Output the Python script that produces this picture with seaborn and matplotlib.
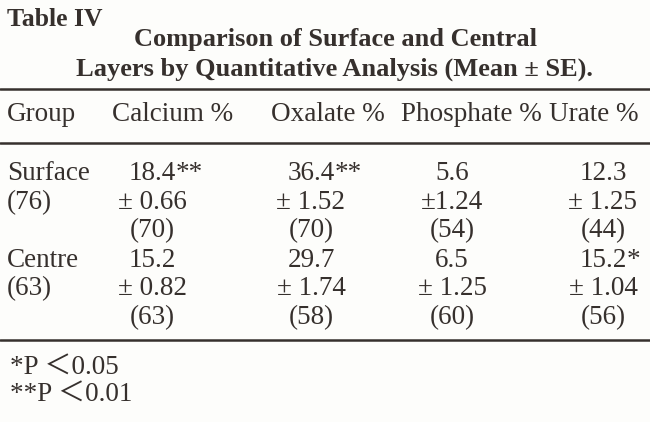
import matplotlib.pyplot as plt
import seaborn as sns

# Table contents
table_label = 'Table IV'
title_lines = ['Comparison of Surface and Central',
               'Layers by Quantitative Analysis (Mean \u00b1 SE).']
header_group = 'Group'
columns = ['Calcium %', 'Oxalate %', 'Phosphate %', 'Urate %']
groups = ['Surface', 'Centre']
group_n = [76, 63]
means = [[18.4, 36.4, 5.6, 12.3],
         [15.2, 29.7, 6.5, 15.2]]
ses = [[0.66, 1.52, 1.24, 1.25],
       [0.82, 1.74, 1.25, 1.04]]
counts = [[70, 70, 54, 44],
          [63, 58, 60, 56]]
marks = [['**', '**', '', ''],
         ['', '', '', '*']]
footnotes = ['*P \uff1c0.05', '**P \uff1c0.01']

# Layout (pixel coordinates of the 650x422 page)
W, H = 650, 422
header_x = [173, 328, 471, 594]
value_x = [152, 311, 452, 603]
group_x = 7
row_base = [[180, 209, 237], [267, 295, 324]]
rules_y = [89, 143, 340]
ink = '#36302d'

sns.set_theme(style='white')
plt.rcParams['font.family'] = ['Liberation Serif', 'Noto Sans CJK JP', 'DejaVu Serif']

fig = plt.figure(figsize=(6.5, 4.22), dpi=100, facecolor='#fdfdfb')
ax = fig.add_axes([0, 0, 1, 1])
ax.set_xlim(0, W)
ax.set_ylim(H, 0)
ax.axis('off')

body = dict(fontsize=19.5, color=ink, va='baseline')
bold = dict(fontsize=19, color=ink, va='baseline', fontweight='bold')

ax.text(7, 26, table_label, ha='left', **dict(bold, fontsize=18.5))
ax.text(336, 46, title_lines[0], ha='center', **bold)
ax.text(334, 76, title_lines[1], ha='center', **bold)

for y in rules_y:
    ax.axhline(y, color=ink, lw=1.8)

ax.text(group_x, 121, header_group, ha='left', **body)
for x, name in zip(header_x, columns):
    ax.text(x, 121, name, ha='center', **body)

for g, name in enumerate(groups):
    y0, y1, y2 = row_base[g]
    ax.text(group_x, y0, name, ha='left', **body)
    ax.text(group_x, y1, f'({group_n[g]})', ha='left', **body)
    for c, x in enumerate(value_x):
        t = ax.text(x, y0, f'{means[g][c]:.1f}', ha='center', **body)
        if marks[g][c]:
            ax.annotate(marks[g][c], xy=(1, 1), xycoords=t, ha='left',
                        va='top', fontsize=19.5, color=ink)
        gap = '' if (g, c) == (0, 2) else ' '
        ax.text(x, y1, f'\u00b1{gap}{ses[g][c]:.2f}', ha='center', **body)
        ax.text(x, y2, f'({counts[g][c]})', ha='center', **body)

for y, note in zip([374, 401], footnotes):
    ax.text(10, y, note, ha='left', **body)

fig.savefig('out.png', dpi=100, facecolor=fig.get_facecolor())
